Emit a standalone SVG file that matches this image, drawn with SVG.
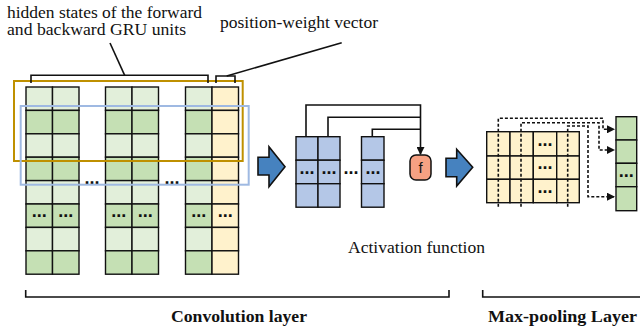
<svg xmlns="http://www.w3.org/2000/svg" width="640" height="332" viewBox="0 0 640 332">
<style>
.t{font-family:"Liberation Serif","Times New Roman",serif;fill:#111}
.b{font-weight:bold}
.g1{fill:#e2efda;stroke:#111;stroke-width:1.4}
.g2{fill:#c5e0b4;stroke:#111;stroke-width:1.4}
.y{fill:#fff2cc;stroke:#111;stroke-width:1.4}
.bl{fill:#b4c7e7;stroke:#111;stroke-width:1.4}
.dots{font-family:"Liberation Sans",Arial,sans-serif;font-weight:bold;font-size:18px;fill:#111;text-anchor:middle}
.ln{fill:none;stroke:#111;stroke-width:1.6}
.dash{fill:none;stroke:#111;stroke-width:1.6;stroke-dasharray:3 2}
.arr{fill:#4682bf;stroke:#111;stroke-width:1.6;stroke-linejoin:miter}
</style>
<defs>
<marker id="ah" markerWidth="8" markerHeight="8" refX="7" refY="4" orient="auto" markerUnits="userSpaceOnUse">
<path d="M0,0 L8,4 L0,8 Z" fill="#111"/>
</marker>
<g id="col">
<rect class="g1" x="0" y="0" width="26.5" height="23.4"/>
<rect class="g2" x="0" y="23.4" width="26.5" height="23.4"/>
<rect class="g1" x="0" y="46.8" width="26.5" height="23.4"/>
<rect class="g2" x="0" y="70.2" width="26.5" height="23.4"/>
<rect class="g1" x="0" y="93.6" width="26.5" height="23.4"/>
<rect class="g2" x="0" y="117" width="26.5" height="23.4"/>
<rect class="g1" x="0" y="140.4" width="26.5" height="23.4"/>
<rect class="g2" x="0" y="163.8" width="26.5" height="23.4"/>
<text class="dots" x="13.25" y="129.5">...</text>
</g>
<g id="ycol">
<rect class="y" x="0" y="0" width="26.5" height="23.4"/>
<rect class="y" x="0" y="23.4" width="26.5" height="23.4"/>
<rect class="y" x="0" y="46.8" width="26.5" height="23.4"/>
<rect class="y" x="0" y="70.2" width="26.5" height="23.4"/>
<rect class="y" x="0" y="93.6" width="26.5" height="23.4"/>
<rect class="y" x="0" y="117" width="26.5" height="23.4"/>
<rect class="y" x="0" y="140.4" width="26.5" height="23.4"/>
<rect class="y" x="0" y="163.8" width="26.5" height="23.4"/>
<text class="dots" x="13.25" y="129.5">...</text>
</g>
</defs>

<g id="labels-top">
<text class="t" x="7" y="18.3" font-size="16" textLength="195" lengthAdjust="spacingAndGlyphs">hidden states of the forward</text>
<text class="t" x="7" y="35" font-size="16" textLength="179" lengthAdjust="spacingAndGlyphs">and backward GRU units</text>
<text class="t" x="220" y="27.5" font-size="17" textLength="158" lengthAdjust="spacingAndGlyphs">position-weight vector</text>
</g>

<g id="conv-input">
<use href="#col" x="26" y="87"/>
<use href="#col" x="52.5" y="87"/>
<use href="#col" x="105.5" y="87"/>
<use href="#col" x="132" y="87"/>
<use href="#col" x="185.5" y="87"/>
<use href="#ycol" x="212" y="87"/>
<text class="dots" x="92" y="184">...</text>
<text class="dots" x="172" y="184">...</text>
</g>

<g id="windows">
<rect x="14" y="81" width="228.7" height="80" fill="none" stroke="#bf9000" stroke-width="2"/>
<rect x="20.7" y="106" width="228" height="78.7" fill="none" stroke="#9fb9e2" stroke-width="2"/>
</g>

<g id="arrow1"><path class="arr" d="M258,157.3 H269 V146.7 L285,166.7 L269,186.7 V175 H258 Z"/></g>

<g id="feature-maps">
<rect class="bl" x="296" y="136.7" width="22" height="23.5"/>
<rect class="bl" x="318" y="136.7" width="22" height="23.5"/>
<rect class="bl" x="296" y="160.2" width="22" height="23.5"/>
<rect class="bl" x="318" y="160.2" width="22" height="23.5"/>
<rect class="bl" x="296" y="183.7" width="22" height="23.5"/>
<rect class="bl" x="318" y="183.7" width="22" height="23.5"/>
<rect class="bl" x="361.5" y="136.7" width="22.5" height="23.5"/>
<rect class="bl" x="361.5" y="160.2" width="22.5" height="23.5"/>
<rect class="bl" x="361.5" y="183.7" width="22.5" height="23.5"/>
<text class="dots" x="307" y="173.5">...</text>
<text class="dots" x="329" y="173.5">...</text>
<text class="dots" x="351" y="173.5">...</text>
<text class="dots" x="373" y="173.5">...</text>
</g>

<g id="activation">
<rect x="410" y="155" width="21" height="25" rx="6" fill="#f6a183" stroke="#111" stroke-width="1.5"/>
<text x="420.5" y="173" font-size="15" text-anchor="middle" fill="#111" style="font-family:'Liberation Sans',Arial,sans-serif">f</text>
<text class="t" x="348" y="252.5" font-size="17.5" textLength="137" lengthAdjust="spacingAndGlyphs">Activation function</text>
</g>

<g id="arrow2"><path class="arr" d="M446,158.3 H456.7 V149.3 L472.7,167.3 L456.7,186 V176.7 H446 Z"/></g>

<g id="pool-input">
<rect class="y" x="486.7" y="131.7" width="23.3" height="24.3"/>
<rect class="y" x="510" y="131.7" width="23.3" height="24.3"/>
<rect class="y" x="533.3" y="131.7" width="23.4" height="24.3"/>
<rect class="y" x="556.7" y="131.7" width="22.6" height="24.3"/>
<rect class="y" x="486.7" y="156" width="23.3" height="23.3"/>
<rect class="y" x="510" y="156" width="23.3" height="23.3"/>
<rect class="y" x="533.3" y="156" width="23.4" height="23.3"/>
<rect class="y" x="556.7" y="156" width="22.6" height="23.3"/>
<rect class="y" x="486.7" y="179.3" width="23.3" height="23.4"/>
<rect class="y" x="510" y="179.3" width="23.3" height="23.4"/>
<rect class="y" x="533.3" y="179.3" width="23.4" height="23.4"/>
<rect class="y" x="556.7" y="179.3" width="22.6" height="23.4"/>
<text class="dots" x="545" y="145.5">...</text>
<text class="dots" x="545" y="169">...</text>
<text class="dots" x="545" y="192.5">...</text>
</g>

<g id="pool-output">
<rect class="g2" x="616" y="116.7" width="20.7" height="23.3"/>
<rect class="g2" x="616" y="140" width="20.7" height="23.3"/>
<rect class="g2" x="616" y="163.3" width="20.7" height="23.4"/>
<rect class="g2" x="616" y="186.7" width="20.7" height="24"/>
<text class="dots" x="626.3" y="176.5">...</text>
</g>

<g id="connectors">
<path class="ln" d="M31,83 V75.3 H208 V83"/>
<path class="ln" d="M124.7,75.3 L110,43"/>
<path class="ln" d="M216,83 V76 H235 V83"/>
<path class="ln" d="M226.7,76 L341.7,42.7"/>
<path class="ln" d="M306,136.7 V105 H420.5 V154" marker-end="url(#ah)"/>
<path class="ln" d="M328,136.7 V117.3 H420.5"/>
<path class="ln" d="M372.3,136.7 V129.3 H420.5"/>
<path class="dash" d="M498.3,206.7 V118.3 H603 V129.3 H614" marker-end="url(#ah)"/>
<path class="dash" d="M521,206.7 V122.7 H599 V150 H614" marker-end="url(#ah)"/>
<path class="dash" d="M567.7,206.7 V126 H588 V196.7 H614" marker-end="url(#ah)"/>
<path class="ln" d="M25.7,290 V297 H449 V290"/>
<path class="ln" d="M482.7,290 V297 H645"/>
</g>

<g id="labels-bottom">
<text class="t b" x="171" y="322" font-size="17.5" textLength="136" lengthAdjust="spacingAndGlyphs">Convolution layer</text>
<text class="t b" x="488" y="322" font-size="17.5" textLength="149" lengthAdjust="spacingAndGlyphs">Max-pooling Layer</text>
</g>
</svg>
